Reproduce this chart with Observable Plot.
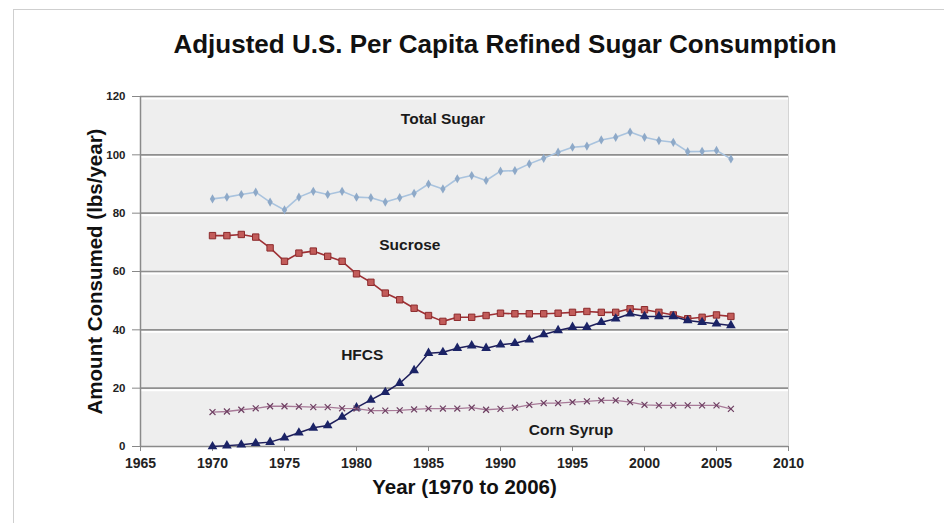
<!DOCTYPE html>
<html>
<head>
<meta charset="utf-8">
<script src="https://cdn.jsdelivr.net/npm/d3@7"></script>
<script src="https://cdn.jsdelivr.net/npm/@observablehq/plot@0.6"></script>
<style>
  html, body { margin: 0; padding: 0; background: #fff; }
  #wrap { position: relative; width: 944px; height: 523px; overflow: hidden; font-family: "Liberation Sans", Arial, sans-serif; }
  #border { position: absolute; left: 13px; top: 9px; width: 1000px; height: 600px; border: 1px solid #cfcfcf; }
  #title { position: absolute; left: 0; top: 29px; width: 1010px; text-align: center; font-weight: bold; font-size: 26px; line-height: 30px; color: #111; }
  #chart { position: absolute; left: 0; top: 80px; }
</style>
</head>
<body>
<div id="wrap">
  <div id="border"></div>
  <div id="title">Adjusted U.S. Per Capita Refined Sugar Consumption</div>
  <div id="chart"></div>
</div>
<script>
const years = [1970,1971,1972,1973,1974,1975,1976,1977,1978,1979,1980,1981,1982,1983,1984,1985,1986,1987,1988,1989,1990,1991,1992,1993,1994,1995,1996,1997,1998,1999,2000,2001,2002,2003,2004,2005,2006];
const totalSugar = [84.9,85.5,86.4,87.2,83.8,81.1,85.5,87.5,86.4,87.5,85.5,85.3,83.8,85.3,86.8,90.0,88.3,91.8,92.9,91.2,94.4,94.6,96.9,98.8,100.9,102.6,103.0,105.1,106.0,107.8,106.0,104.9,104.3,101.1,101.2,101.5,98.6];
const sucrose = [72.3,72.3,72.7,71.8,68.1,63.5,66.3,67.0,65.2,63.5,59.2,56.3,52.6,50.3,47.4,44.9,42.9,44.3,44.3,44.9,45.7,45.5,45.5,45.5,45.7,46.0,46.3,46.0,46.0,47.2,46.9,46.0,45.1,43.8,44.3,45.1,44.6];
const hfcs = [0.0,0.3,0.6,1.1,1.5,3.0,4.7,6.4,7.2,10.1,13.3,16.0,18.6,21.7,26.1,32.0,32.3,33.7,34.6,33.7,34.9,35.4,36.6,38.4,39.8,40.9,40.9,42.6,43.8,45.5,44.6,44.6,44.6,43.2,42.6,42.1,41.5];
const cornSyrup = [11.8,12.0,12.6,13.1,13.8,13.8,13.7,13.5,13.5,13.1,13.0,12.3,12.3,12.4,12.7,13.0,13.0,13.0,13.3,12.6,12.9,13.3,14.3,14.9,14.9,15.2,15.5,15.8,15.8,15.2,14.3,14.1,14.1,14.1,14.1,14.1,12.9];

const seriesNames = ["Total Sugar", "Sucrose", "HFCS", "Corn Syrup"];
const labelYears = [1986, 1983.7, 1980.4, 1994.9];
const labelValues = [112.4, 69.2, 31.2, 5.5];

const xTicks = [1965,1970,1975,1980,1985,1990,1995,2000,2005,2010];
const yTicks = [0,20,40,60,80,100,120];

const rows = (vals) => years.map((y, i) => ({year: y, value: vals[i]}));
const T = rows(totalSugar), S = rows(sucrose), H = rows(hfcs), C = rows(cornSyrup);
const labels = seriesNames.map((n, i) => ({name: n, year: labelYears[i], value: labelValues[i]}));

const font = "'Liberation Sans', Arial, sans-serif";

const plot = Plot.plot({
  width: 944,
  height: 443,
  marginLeft: 140,
  marginRight: 156,
  marginTop: 16,
  marginBottom: 77,
  style: {fontFamily: font, background: "transparent", color: "#222"},
  x: {domain: [1965, 2010]},
  y: {domain: [0, 120]},
  marks: [
    Plot.frame({fill: "#eeeeee", stroke: "#d4d4d4"}),
    Plot.ruleY(yTicks.filter(d => d > 0), {stroke: "#ffffff", strokeWidth: 2, dy: 2}),
    Plot.ruleY(yTicks.filter(d => d > 0), {stroke: "#8f8f8f", strokeWidth: 1.6}),
    Plot.ruleX([1965], {stroke: "#8a8a8a", strokeWidth: 1.5}),
    Plot.ruleY([0], {stroke: "#8a8a8a", strokeWidth: 1.5}),
    Plot.axisX({ticks: xTicks, tickFormat: d => String(d), tickSize: 5, tickPadding: 7, fontSize: 14, fontWeight: "bold", stroke: "#888", label: null}),
    Plot.axisY({ticks: yTicks, tickSize: 8, tickPadding: 7, fontSize: 11.5, fontWeight: "bold", stroke: "#888", label: null}),
    // Total sugar
    Plot.line(T, {x: "year", y: "value", stroke: "#a9c3de", strokeWidth: 1.6}),
    Plot.dot(T, {x: "year", y: "value", symbol: "diamond", r: 2.8, fill: "#8ea9c8", stroke: "none"}),
    // Sucrose
    Plot.line(S, {x: "year", y: "value", stroke: "#9e3034", strokeWidth: 1.6}),
    Plot.dot(S, {x: "year", y: "value", symbol: "square", r: 3.6, fill: "#c25c5a", stroke: "#8c2a2c", strokeWidth: 1}),
    // HFCS
    Plot.line(H, {x: "year", y: "value", stroke: "#1e1e5a", strokeWidth: 1.5}),
    Plot.dot(H, {x: "year", y: "value", symbol: "triangle", r: 3.6, fill: "#1b2366", stroke: "none"}),
    // Corn syrup
    Plot.line(C, {x: "year", y: "value", stroke: "#a87a98", strokeWidth: 1.3}),
    Plot.dot(C, {x: "year", y: "value", symbol: "times", r: 2.8, stroke: "#6e3f62", strokeWidth: 1.2}),
    // series labels
    Plot.text(labels, {x: "year", y: "value", text: "name", fontSize: 15.5, fontWeight: "bold", fill: "#1a1a1a"}),
    // axis titles
    Plot.text(["Amount Consumed (lbs/year)"], {frameAnchor: "left", textAnchor: "middle", dx: -45, rotate: -90, fontSize: 20.5, fontWeight: "bold", fill: "#111"}),
    Plot.text(["Year (1970 to 2006)"], {frameAnchor: "bottom", textAnchor: "middle", dy: 47, fontSize: 20.5, fontWeight: "bold", fill: "#111"})
  ]
});
document.getElementById("chart").appendChild(plot);
</script>
</body>
</html>
